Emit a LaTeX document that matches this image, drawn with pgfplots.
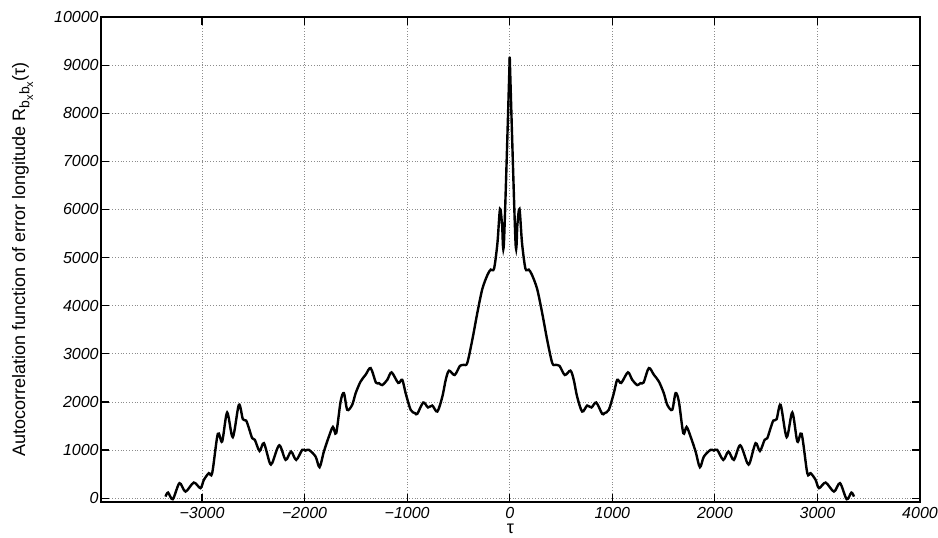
\documentclass[border=0pt]{standalone}
\usepackage{pgfplots}
\pgfplotsset{compat=1.18}
\usepackage{pgfplotstable}
\usepackage{fontspec}
\setmainfont{Liberation Sans}

% autocorrelation, split at the central spike
\pgfplotstableread{
x y
-3356 33
-3331 116
-3285 -21
-3220 312
-3161 137
-3080 324
-3015 208
-2982 380
-2934 520
-2901 520
-2846 1337
-2804 1177
-2755 1780
-2700 1268
-2641 1940
-2602 1642
-2570 1613
-2543 1455
-2511 1247
-2485 1212
-2439 980
-2397 1143
-2341 740
-2315 735
-2247 1100
-2185 796
-2132 969
-2082 796
-2023 1004
-1990 990
-1958 1004
-1893 865
-1854 644
-1812 969
-1763 1281
-1724 1480
-1692 1351
-1649 2008
-1617 2183
-1584 1836
-1536 1940
-1502 2183
-1454 2424
-1405 2565
-1356 2703
-1305 2404
-1275 2391
-1243 2350
-1194 2460
-1152 2615
-1087 2395
-1048 2460
-1015 2183
-966 1836
-924 1767
-901 1753
-843 1988
-797 1884
-755 1925
-706 1800
-657 2110
-624 2460
-592 2650
-537 2560
-485 2750
-446 2770
-414 2810
-365 3290
-316 3850
-267 4350
-215 4650
-185 4750
-153 4770
-120 5300
-95 6010
-75 5700
-56 5335
0 9170
}\acfleft

\pgfplotstableread{
x y
0 9170
56 5335
75 5700
95 6010
120 5300
153 4770
185 4750
215 4650
267 4350
316 3850
365 3290
414 2810
446 2770
485 2750
537 2560
592 2650
624 2460
657 2110
706 1800
755 1925
797 1884
843 1988
901 1753
924 1767
966 1836
1015 2183
1048 2460
1087 2395
1152 2615
1194 2460
1243 2350
1275 2391
1305 2404
1356 2703
1405 2565
1454 2424
1502 2183
1536 1940
1584 1836
1617 2183
1649 2008
1692 1351
1724 1480
1763 1281
1812 969
1854 644
1893 865
1958 1004
1990 990
2023 1004
2082 796
2132 969
2185 796
2247 1100
2315 735
2341 740
2397 1143
2439 980
2485 1212
2511 1247
2543 1455
2570 1613
2602 1642
2641 1940
2700 1268
2755 1780
2804 1177
2846 1337
2901 520
2934 520
2982 380
3015 208
3080 324
3161 137
3220 312
3285 -21
3331 116
3356 33
}\acfright

\begin{document}
\begin{tikzpicture}
  \begin{axis}[
    scale only axis, width=409.5pt, height=242.5pt,
    xmin=-3985, xmax=4000, ymin=-80, ymax=10000,
    scaled ticks=false,
    xtick={-3000,-2000,-1000,0,1000,2000,3000,4000},
    xticklabels={−3000,−2000,−1000,0,1000,2000,3000,4000},
    ytick={0,1000,2000,3000,4000,5000,6000,7000,8000,9000,10000},
    yticklabels={0,1000,2000,3000,4000,5000,6000,7000,8000,9000,10000},
    grid=major, grid style={densely dotted, black!45, line width=0.4pt},
    tick align=inside, major tick length=4pt,
    axis line style={line width=0.6pt}, tick style={black, line width=0.6pt},
    ticklabel style={font=\fontsize{8}{9}\selectfont\itshape, inner sep=1pt},
    xticklabel style={yshift=-1.5pt},
    label style={font=\fontsize{9}{10}\selectfont},
    xlabel={τ},
    xlabel style={inner sep=0pt, anchor=north, at={(axis description cs:0.5,0)}, yshift=-11pt},
    ylabel={Autocorrelation function of error longitude R\raisebox{-0.45ex}{\fontsize{7}{8}\selectfont b\raisebox{-0.5ex}{\fontsize{5.5}{6}\selectfont x}b\raisebox{-0.5ex}{\fontsize{5.5}{6}\selectfont x}}(τ)},
    ylabel style={yshift=6pt},
  ]
    \addplot[black, line width=1.2pt, smooth, tension=0.5] table[x=x, y=y] {\acfleft};
    \addplot[black, line width=1.2pt, smooth, tension=0.5] table[x=x, y=y] {\acfright};
  \end{axis}
  \pgfresetboundingbox
  \path ([xshift=-50.5pt, yshift=8.5pt]current axis.north west)
    rectangle ([xshift=9pt, yshift=-17.5pt]current axis.south east);
\end{tikzpicture}
\end{document}
